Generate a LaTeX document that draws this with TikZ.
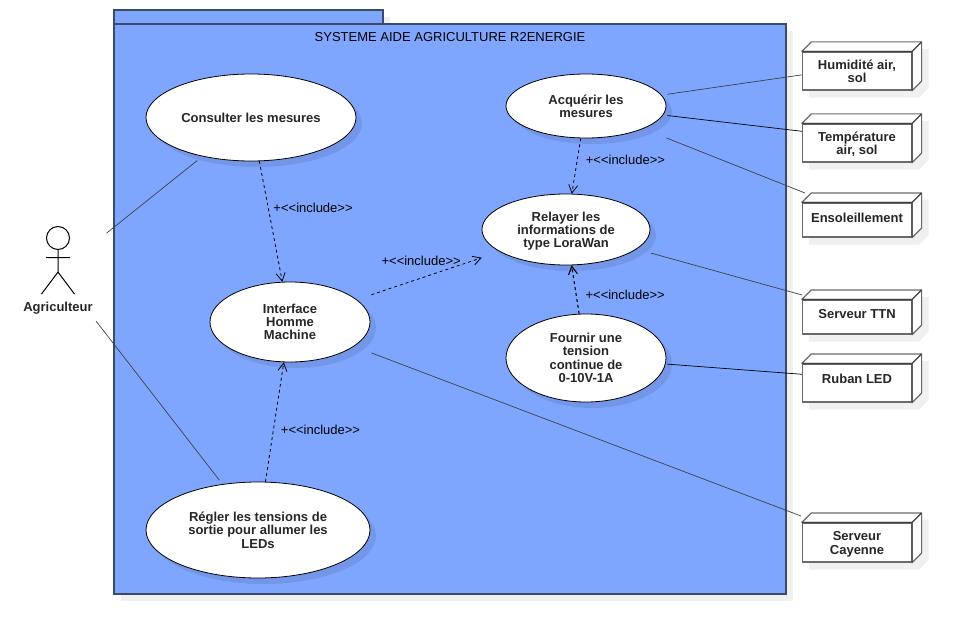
\documentclass[tikz,border=0pt]{standalone}
\usepackage{fontspec}
\setmainfont{Liberation Sans}
\usetikzlibrary{arrows.meta,backgrounds,shadows,shapes}
\definecolor{pkgblue}{HTML}{7FA6FF}
\definecolor{pkgedge}{HTML}{3A4A6B}
\definecolor{ovalshadow}{HTML}{7496E8}
\definecolor{greyshadow}{HTML}{F0F0F0}
\definecolor{boxedge}{HTML}{6A6A6A}
\newcommand{\inclabel}{+<{}<include>{}>}

\begin{document}
\begin{tikzpicture}[x=1pt,y=-1pt,>={Straight Barb[length=8pt,width=9pt]},
line width=0.8pt,font=\fontsize{13}{13.3}\selectfont]
\tikzset{
usecase/.style={ellipse,draw=black,fill=white,text=black!85,inner sep=0pt,align=center,font=\fontsize{13}{13.3}\selectfont\bfseries,
drop shadow={shadow xshift=6pt,shadow yshift=-6pt,fill=ovalshadow,opacity=1}},
device/.style={rectangle,draw=boxedge,line width=1.2pt,fill=white,text=black!85,minimum width=109pt,inner sep=0pt,align=center,font=\fontsize{13}{13.3}\selectfont\bfseries},
pkgpart/.style={rectangle,draw=pkgedge,line width=1.2pt,fill=pkgblue,inner sep=0pt,
drop shadow={shadow xshift=7pt,shadow yshift=-7pt,fill=greyshadow,opacity=1}},
link/.style={draw=black!75,line width=0.7pt},
dep/.style={->,dashed,black,line width=0.8pt},
incl/.style={right,inner sep=5pt,yshift=-1pt,font=\fontsize{13}{13.3}\selectfont}
}
\useasboundingbox (0,0) rectangle (962,634);

\node[pkgpart,minimum width=269pt,minimum height=14pt] (tab) at (248.5,17) {};
\node[pkgpart,minimum width=672pt,minimum height=570pt] (pkg) at (450,309) {};
\node (title) at (450,37.5) {SYSTEME AIDE AGRICULTURE R2ENERGIE};

\node[usecase,minimum width=210pt,minimum height=87pt] (consulter) at (251,117.5) {Consulter les mesures};
\node[usecase,minimum width=160pt,minimum height=80pt] (interface) at (290,322) {Interface\\Homme\\Machine};
\node[usecase,minimum width=224pt,minimum height=96pt] (regler) at (258,530) {Régler les tensions de\\sortie pour allumer les\\LEDs};
\node[usecase,minimum width=160pt,minimum height=64pt] (acquerir) at (586,106) {Acquérir les\\mesures};
\node[usecase,minimum width=168pt,minimum height=71pt] (relayer) at (566,229.5) {\rule{0pt}{12.5pt}Relayer les\\informations de\\type LoraWan};
\node[usecase,minimum width=160pt,minimum height=88pt] (fournir) [below of=acquerir,node distance=252pt] {Fournir une\\tension\\continue de\\0-10V-1A};

\node[device,minimum height=38pt] (humid) at (857,71) {Humidité air,\\sol};
\node[device,minimum height=38pt] (temp) [below of=humid,node distance=72pt] {\rule{0pt}{11.5pt}Température\\air, sol};
\node[device,minimum height=34pt] (ensol) [below of=temp,node distance=77pt] {\raisebox{5pt}{Ensoleillement}};
\node[device,minimum height=34pt] (ttn) [below of=ensol,node distance=97pt] {\raisebox{6pt}{Serveur TTN}};
\node[device,minimum height=38pt] (ruban) [below of=ttn,node distance=66pt] {\raisebox{9pt}{Ruban LED}};
\node[device,minimum height=39pt] (cayenne) [below of=ruban,node distance=159.5pt] {\rule{0pt}{12.5pt}Serveur\\Cayenne};

\foreach \dev in {humid,temp,ensol,ttn,ruban,cayenne}{
\begin{pgfonlayer}{background}
\fill[greyshadow] ([shift={(7,7)}]\dev.south west) -- ([shift={(7,7)}]\dev.north west) -- ([shift={(16.5,-2.5)}]\dev.north west)
-- ([shift={(16.5,-2.5)}]\dev.north east) -- ([shift={(16.5,-2.5)}]\dev.south east) -- ([shift={(7,7)}]\dev.south east) -- cycle;
\end{pgfonlayer}
\draw[boxedge,line width=1.2pt,fill=white,line join=round] (\dev.north west) -- ++(9.5,-9.5) -- ([shift={(9.5,-9.5)}]\dev.north east)
-- ([shift={(9.5,-9.5)}]\dev.south east) -- (\dev.south east) -- (\dev.north east) -- cycle;
\draw[black!75,line width=1.2pt] (\dev.north west) -- (\dev.north east) -- (\dev.south east) (\dev.north east) -- ++(9.5,-9.5);
}

% actor
\node[circle,draw,black,line width=1pt,minimum size=23pt,inner sep=0pt] (head) at (58,238) {};
\node[circle,minimum size=124pt,inner sep=0pt] (agriculteur) at (58,272) {};
\node[text=black!85,font=\fontsize{13}{13.3}\selectfont\bfseries] (agrilabel) at (58,308.5) {Agriculteur};
\draw[line width=1pt] (head.south) -- (agriculteur.center) (46,257.5) -- (70,257.5)
(41.5,294) -- (agriculteur.center) -- (74.5,294);

\coordinate (ensoltop) at (805,193);
\coordinate (ttntop) at (802,295);
\coordinate (cayennetop) at (801,516);

\draw[link,shorten >=6.5pt] (agriculteur) -- (consulter);
\draw[link,shorten >=4.9pt] (agriculteur) -- (regler);
\draw[link,shorten <=5.8pt] (acquerir) -- (humid.184);
\draw[link,black,shorten <=4.2pt] (acquerir) -- (temp.168);
\draw[link,shorten <=25pt] (acquerir) -- (ensoltop);
\draw[link,shorten <=15pt] (relayer) -- (ttntop);
\draw[link,black,shorten <=1.5pt] (fournir) -- (ruban.171);
\draw[link,shorten <=18.6pt] (interface) -- (cayennetop);

\path[dep] (consulter) edge node[incl,pos=.38] {\inclabel} (interface)
(acquerir) edge node[incl,pos=.37,xshift=3pt] {\inclabel} (relayer)
(regler) edge node[incl,pos=.44,xshift=2pt] {\inclabel} (interface);
\path[dep,line width=1.1pt] (fournir) edge node[incl,pos=.41,xshift=4pt] {\inclabel} (relayer);
\path[dep,shorten <=15.3pt,shorten >=19pt] (interface) edge node[above,inner sep=5pt,pos=.45,yshift=7pt] {\inclabel} (relayer);

\end{tikzpicture}
\end{document}
